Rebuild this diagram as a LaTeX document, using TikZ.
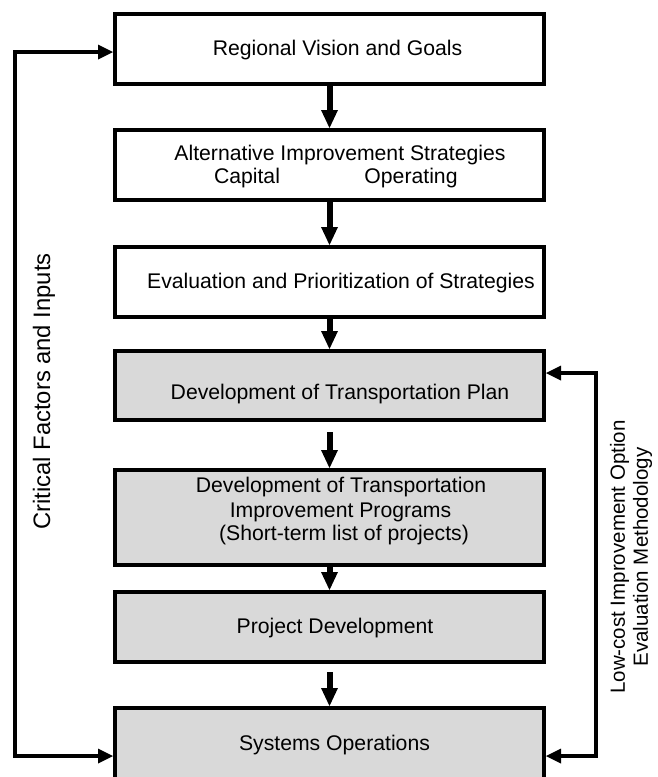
\documentclass[tikz,border=0pt]{standalone}
\usepackage{fontspec}
\setmainfont{Liberation Sans}
\usetikzlibrary{arrows.meta}
\definecolor{boxgray}{HTML}{D9D9D9}
\begin{document}
\begin{tikzpicture}[x=1pt,y=-1pt,
  box/.style={draw, line width=4pt, rectangle, minimum width=429pt, inner sep=0pt},
  whitebox/.style={box, fill=white},
  graybox/.style={box, fill=boxgray},
  txt/.style={font=\fontsize{21.2}{24.5}\selectfont, anchor=base, inner sep=0pt},
  flow/.style={line width=6pt, -{Triangle[length=18pt,width=17pt,line width=0pt]}},
  feedback/.style={line width=4pt,
    {Triangle[length=15pt,width=15pt,line width=0pt]}-{Triangle[length=15pt,width=15pt,line width=0pt]}},
]
\clip (0,0) rectangle (657,777);

% main chain of planning steps
\node[whitebox, minimum height=70pt] (b1) at (329.5,49) {};
\node[whitebox, minimum height=70pt] (b2) at (329.5,165) {};
\node[whitebox, minimum height=70pt] (b3) at (329.5,282) {};
\node[graybox, minimum height=69pt] (b4) at (329.5,385.5) {};
\node[graybox, minimum height=95pt] (b5) at (329.5,517.5) {};
\node[graybox, minimum height=70pt] (b6) at (329.5,627) {};
\node[graybox, minimum height=100pt] (b7) at (329.5,758) {};

% step texts
\node[txt] (t1) at (337.5,55) {Regional Vision and Goals};
\node[txt] (t2a) at (340,160) {Alternative Improvement Strategies};
\node[txt] (t2b) at (247,183) {Capital};
\node[txt] (t2c) at (411,183) {Operating};
\node[txt] (t3) at (341,288) {Evaluation and Prioritization of Strategies};
\node[txt] (t4) at (340,399) {Development of Transportation Plan};
\node[txt] (t5a) at (341,492) {Development of Transportation};
\node[txt] (t5b) at (340.5,517) {Improvement Programs};
\node[txt] (t5c) at (344,540.5) {(Short-term list of projects)};
\node[txt] (t6) at (335,633) {Project Development};
\node[txt] (t7) at (334.5,750) {Systems Operations};

% downward flow
\draw[flow] (b1.south) -- (b2.north);
\draw[flow] (b2.south) -- (b3.north);
\draw[flow] (b3.south) -- (b4.north);
\draw[flow, shorten <=10pt] (b4.south) -- (b5.north);
\draw[flow] (b5.south) -- (b6.north);
\draw[flow, shorten <=8pt] (b6.south) -- (b7.north);

% feedback loops
\draw[feedback] ([yshift=-3pt]b1.west) -- ++(-98,0) |- ([yshift=-50pt]b7.north west);
\draw[feedback] ([yshift=12.5pt]b4.east) -- ++(50,0) |- ([yshift=-50pt]b7.north east);

% loop labels
\node[rotate=90, anchor=base, inner sep=0pt, font=\fontsize{23.8}{27}\selectfont] (lab1) at (50,391.5) {Critical Factors and Inputs};
\node[rotate=90, align=center, inner sep=0pt, font=\fontsize{20.5}{23}\selectfont] (lab2) at (631,557) {Low-cost Improvement Option\\Evaluation Methodology};
\end{tikzpicture}
\end{document}
